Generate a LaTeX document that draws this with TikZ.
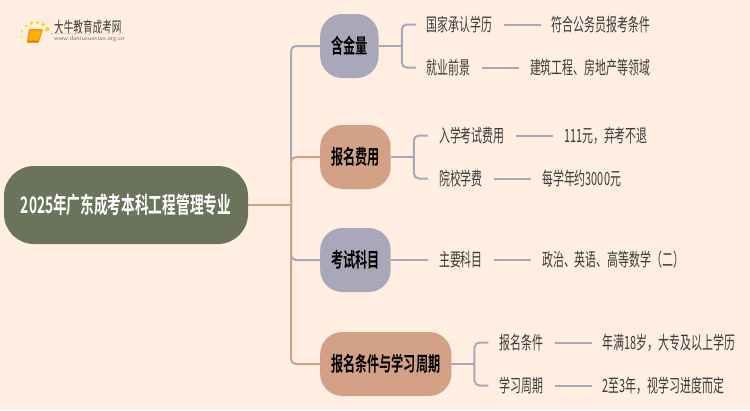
\documentclass[tikz,border=0pt]{standalone}
\usepackage{fontspec}
\usetikzlibrary{
    calc,
    positioning,
}
\newfontfamily\cjk[FakeStretch=.6]{Noto Sans CJK SC}
\newfontfamily\cjkbf[FakeStretch=.6]{Noto Sans CJK SC Bold}
\definecolor{MyPaper}{HTML}{FFEEE1}
\definecolor{MyOlive}{HTML}{6B735B}
\definecolor{MySlate}{HTML}{A8A8BA}
\definecolor{MyClay}{HTML}{D3A286}
\definecolor{MyInk}{HTML}{3C3C3C}
\tikzstyle{root}=[rectangle,rounded corners=30pt,fill=MyOlive,text=white,font=\cjkbf\fontsize{22.8}{22.8}\selectfont,minimum width=244pt,minimum height=78pt,inner sep=0pt]
\tikzstyle{topic}=[rectangle,rounded corners=22pt,minimum height=64pt,inner xsep=11pt,inner ysep=0pt,text=black,font=\cjkbf\fontsize{20.2}{20.2}\selectfont]
\tikzstyle{leaf}=[inner xsep=11pt,inner ysep=0pt,minimum height=18pt,text=MyInk,font=\cjk\fontsize{18.2}{18.2}\selectfont]
\tikzstyle{slate}=[draw=MySlate,line width=2pt]
\tikzstyle{clay}=[draw=MyClay,line width=2pt]
\newcommand{\Fork}[5]{%
    \coordinate (#1s) at ($(#1.east)+(23,0)$);
    \node[leaf,anchor=west] (#2) at ($(#1s)+(14,-21.5)$) {#3};
    \node[leaf,anchor=west] (#4) at ($(#1s)+(14,21.5)$) {#5};
    \draw[slate] (#1) -- (#1s);
    \draw[slate,rounded corners=5pt] (#2.west) -| (#1s) |- (#4.west);
}
\newcommand{\Leaf}[3]{%
    \node[leaf,right=37pt of #1] (#2) {#3};
    \draw[slate] (#1) -- (#2);
}
\begin{document}
\begin{tikzpicture}[x=1pt,y=-1pt]
    \fill[MyPaper] (0,0) rectangle (750,410);
    \useasboundingbox (0,0) rectangle (750,410);

    % Logo
    \fill[orange!85!yellow,rounded corners=1pt] (29,29) -- (43,29) -- (39,42) -- (27,42) -- cycle;
    \fill[orange!60!yellow,rounded corners=.5pt] (31,31) -- (41,31) -- (38,40) -- (28.5,40) -- cycle;
    \fill[orange!90!black] (27,41) -- (39,41) -- (38.5,42.5) -- (27,42.5) -- cycle;
    \foreach \dotx/\doty/\dotr in {23/43/.7,21.5/37/.8,22/31/1,26/26/1.3,31.5/23/1.6,37.5/22.5/1.7,43/24.5/1.8,47.5/29/2.1}
        \fill[yellow!70!orange] (\dotx,\doty) circle (\dotr);
    \node[anchor=west,inner sep=0pt,text=MyInk,font=\cjk\fontsize{16}{16}\selectfont] (logoname) at (54,27) {大牛教育成考网};
    \node[anchor=west,inner sep=0pt,text=black!55,font=\sffamily\fontsize{6.3}{6.3}\selectfont] (logourl) at (54,39) {www.daniuxuexiao.org.cn};
    \shade[left color=black!18,right color=MyPaper] (50,33.2) rectangle (132,33.8);

    % Center
    \node[root] (main) at (126,205) {2025年广东成考本科工程管理专业};
    \coordinate (hub) at (291,205);

    % Topics
    \node[topic,fill=MySlate,anchor=west] (gold) at (320,46) {含金量};
    \node[topic,fill=MyClay,anchor=west] (fee) at (320,157) {报名费用};
    \node[topic,fill=MySlate,anchor=west] (exam) at (320,260) {考试科目};
    \node[topic,fill=MyClay,anchor=west] (cond) at (320,364) {报名条件与学习周期};

    \draw[slate,rounded corners=5pt] (gold.west) -| (hub);
    \draw[slate,rounded corners=5pt] (exam.west) -| (hub);
    \draw[clay,rounded corners=5pt] (fee.west) -| (hub);
    \draw[clay,rounded corners=5pt] (cond.west) -| (hub);
    \draw[clay] (main) -- (hub);

    % Gold value
    \Fork{gold}{recog}{国家承认学历}{job}{就业前景}
    \Leaf{recog}{civil}{符合公务员报考条件}
    \Leaf{job}{field}{建筑工程、房地产等领域}

    % Fees
    \Fork{fee}{entry}{入学考试费用}{tuition}{院校学费}
    \Leaf{entry}{refund}{111元，弃考不退}
    \Leaf{tuition}{yearly}{每学年约3000元}

    % Subjects
    \node[leaf,anchor=west] (major) at ($(exam.east)+(37,0)$) {主要科目};
    \draw[slate] (exam) -- (major);
    \Leaf{major}{math}{政治、英语、高等数学（二）}

    % Admission and duration
    \Fork{cond}{admit}{报名条件}{period}{学习周期}
    \Leaf{admit}{age}{年满18岁，大专及以上学历}
    \Leaf{period}{pace}{2至3年，视学习进度而定}
\end{tikzpicture}
\end{document}
